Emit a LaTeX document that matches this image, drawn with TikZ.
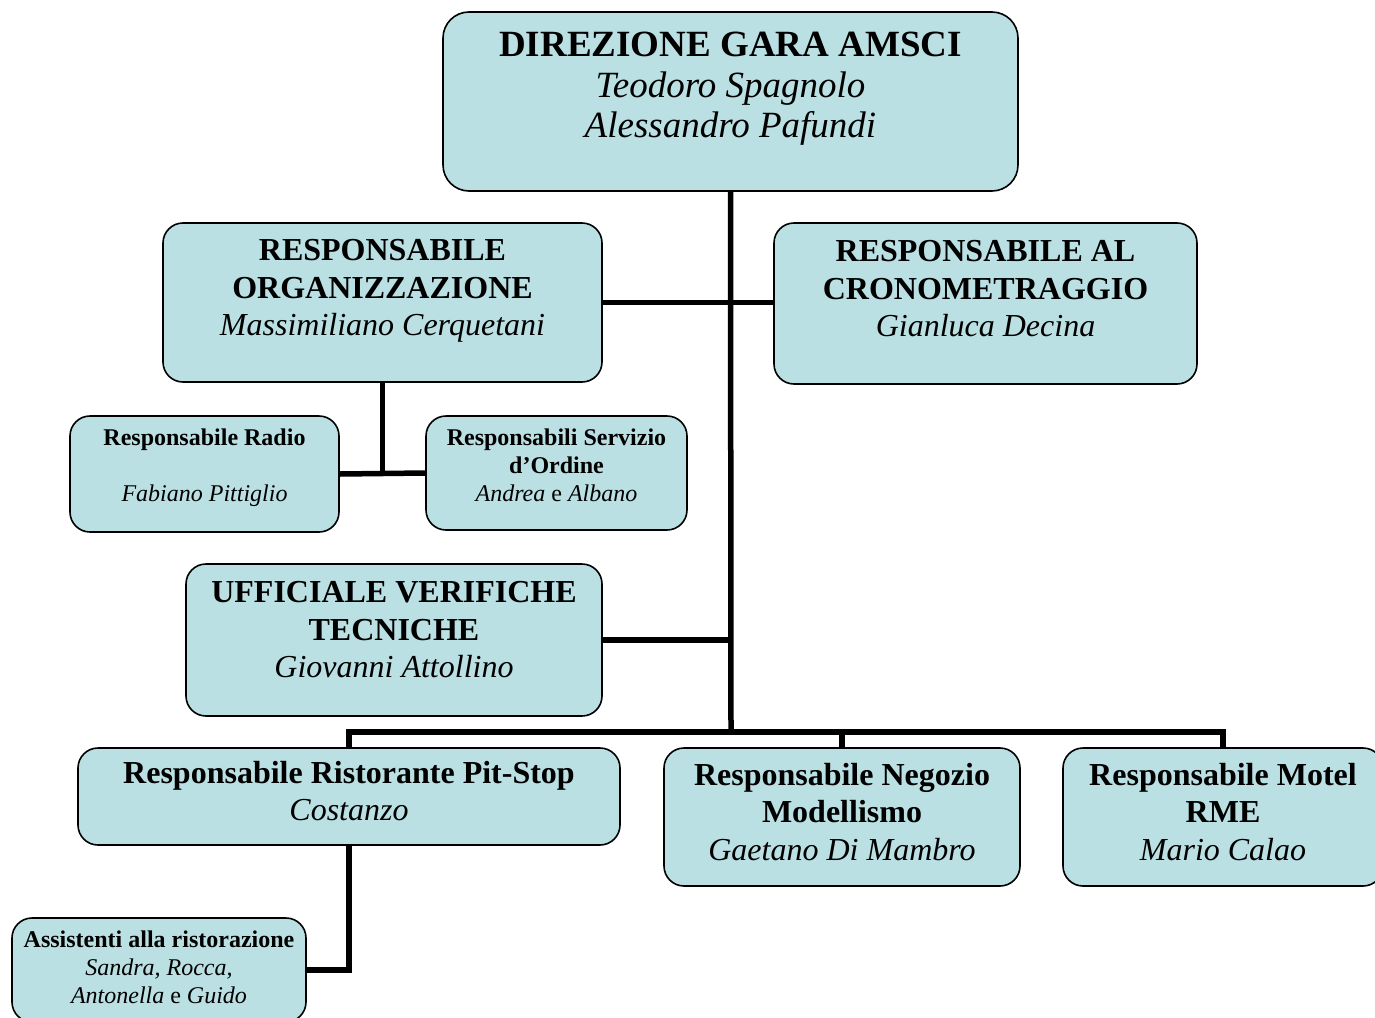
\documentclass[tikz,border=0pt]{standalone}
\usepackage{fontspec}
\setmainfont{Liberation Serif}
\definecolor{boxfill}{RGB}{186,224,227}
\tikzset{
  box/.style={draw=black, line width=1.6pt, fill=boxfill, rounded corners=20pt, inner sep=0pt},
  conn/.style={line width=5.5pt, line join=miter},
  txt/.style={align=center, inner sep=0pt},
  fhuge/.style={txt, font=\fontsize{37}{40.5}\selectfont},
  fbig/.style={txt, font=\fontsize{32}{37.5}\selectfont},
  fsmall/.style={txt, font=\fontsize{24}{28}\selectfont}
}
\begin{document}
\begin{tikzpicture}[x=1pt,y=-1pt]
\useasboundingbox (0,0) rectangle (1375,1017);
% boxes
\node[box, rounded corners=26pt, minimum width=575pt, minimum height=179pt] (top) at (730.5,101.5) {};
\node[box, minimum width=439pt, minimum height=159pt] (org) at (382.5,302.5) {};
\node[box, minimum width=423pt, minimum height=161pt] (crono) at (985.5,303.5) {};
\node[box, minimum width=269pt, minimum height=116pt] (radio) at (204.5,474) {};
\node[box, minimum width=261pt, minimum height=114pt] (serv) at (556.5,473) {};
\node[box, minimum width=416pt, minimum height=152pt] (uff) at (394,640) {};
\node[box, minimum width=542pt, minimum height=97pt] (pit) at (349,796.5) {};
\node[box, minimum width=356pt, minimum height=138pt] (neg) at (842,817) {};
\node[box, minimum width=320pt, minimum height=138pt] (motel) at (1223,817) {};
\node[box, minimum width=294pt, minimum height=104pt] (assist) at (159,970) {};
% texts
\node[fhuge] (ttop) at (730.5,89) {\textbf{DIREZIONE GARA AMSCI}\\\textit{Teodoro Spagnolo}\\\textit{Alessandro Pafundi}};
\node[fbig] (torg) at (382.5,291) {\textbf{RESPONSABILE}\\\textbf{ORGANIZZAZIONE}\\\textit{Massimiliano Cerquetani}};
\node[fbig] (tcrono) at (985.5,289) {\textbf{RESPONSABILE AL}\\\textbf{CRONOMETRAGGIO}\\\textit{Gianluca Decina}};
\node[fsmall] (tradio) at (204.5,468) {\textbf{Responsabile Radio}\\[28pt]\textit{Fabiano Pittiglio}};
\node[fsmall] (tserv) at (556.5,465) {\textbf{Responsabili Servizio}\\\textbf{d’Ordine}\\\textit{Andrea} e \textit{Albano}};
\node[fbig] (tuff) at (394,630) {\textbf{UFFICIALE VERIFICHE}\\\textbf{TECNICHE}\\\textit{Giovanni Attollino}};
\node[fbig] (tpit) at (349,791) {\textbf{Responsabile Ristorante Pit-Stop}\\\textit{Costanzo}};
\node[fbig] (tneg) at (842,812) {\textbf{Responsabile Negozio}\\\textbf{Modellismo}\\\textit{Gaetano Di Mambro}};
\node[fbig] (tmotel) at (1223,812) {\textbf{Responsabile Motel}\\\textbf{RME}\\\textit{Mario Calao}};
\node[fsmall] (tassist) at (159,967) {\textbf{Assistenti alla ristorazione}\\\textit{Sandra, Rocca,}\\\textit{Antonella} e \textit{Guido}};
% connectors
\coordinate (bus) at (731,732);
\draw[conn] (top.south) -- (bus);
\draw[conn] (org.east) -- (org.east -| crono.west);
\draw[conn] (uff.east) -- (uff.east -| bus);
\draw[conn] (pit.north) |- (bus) -| (motel.north);
\draw[conn] (neg.north) -- (neg.north |- bus);
\draw[conn] (org.south) -- (org.south |- radio.east);
\draw[conn] (radio.east) -- (serv.west);
\draw[conn] (pit.south) |- (assist.east);
\end{tikzpicture}
\end{document}
